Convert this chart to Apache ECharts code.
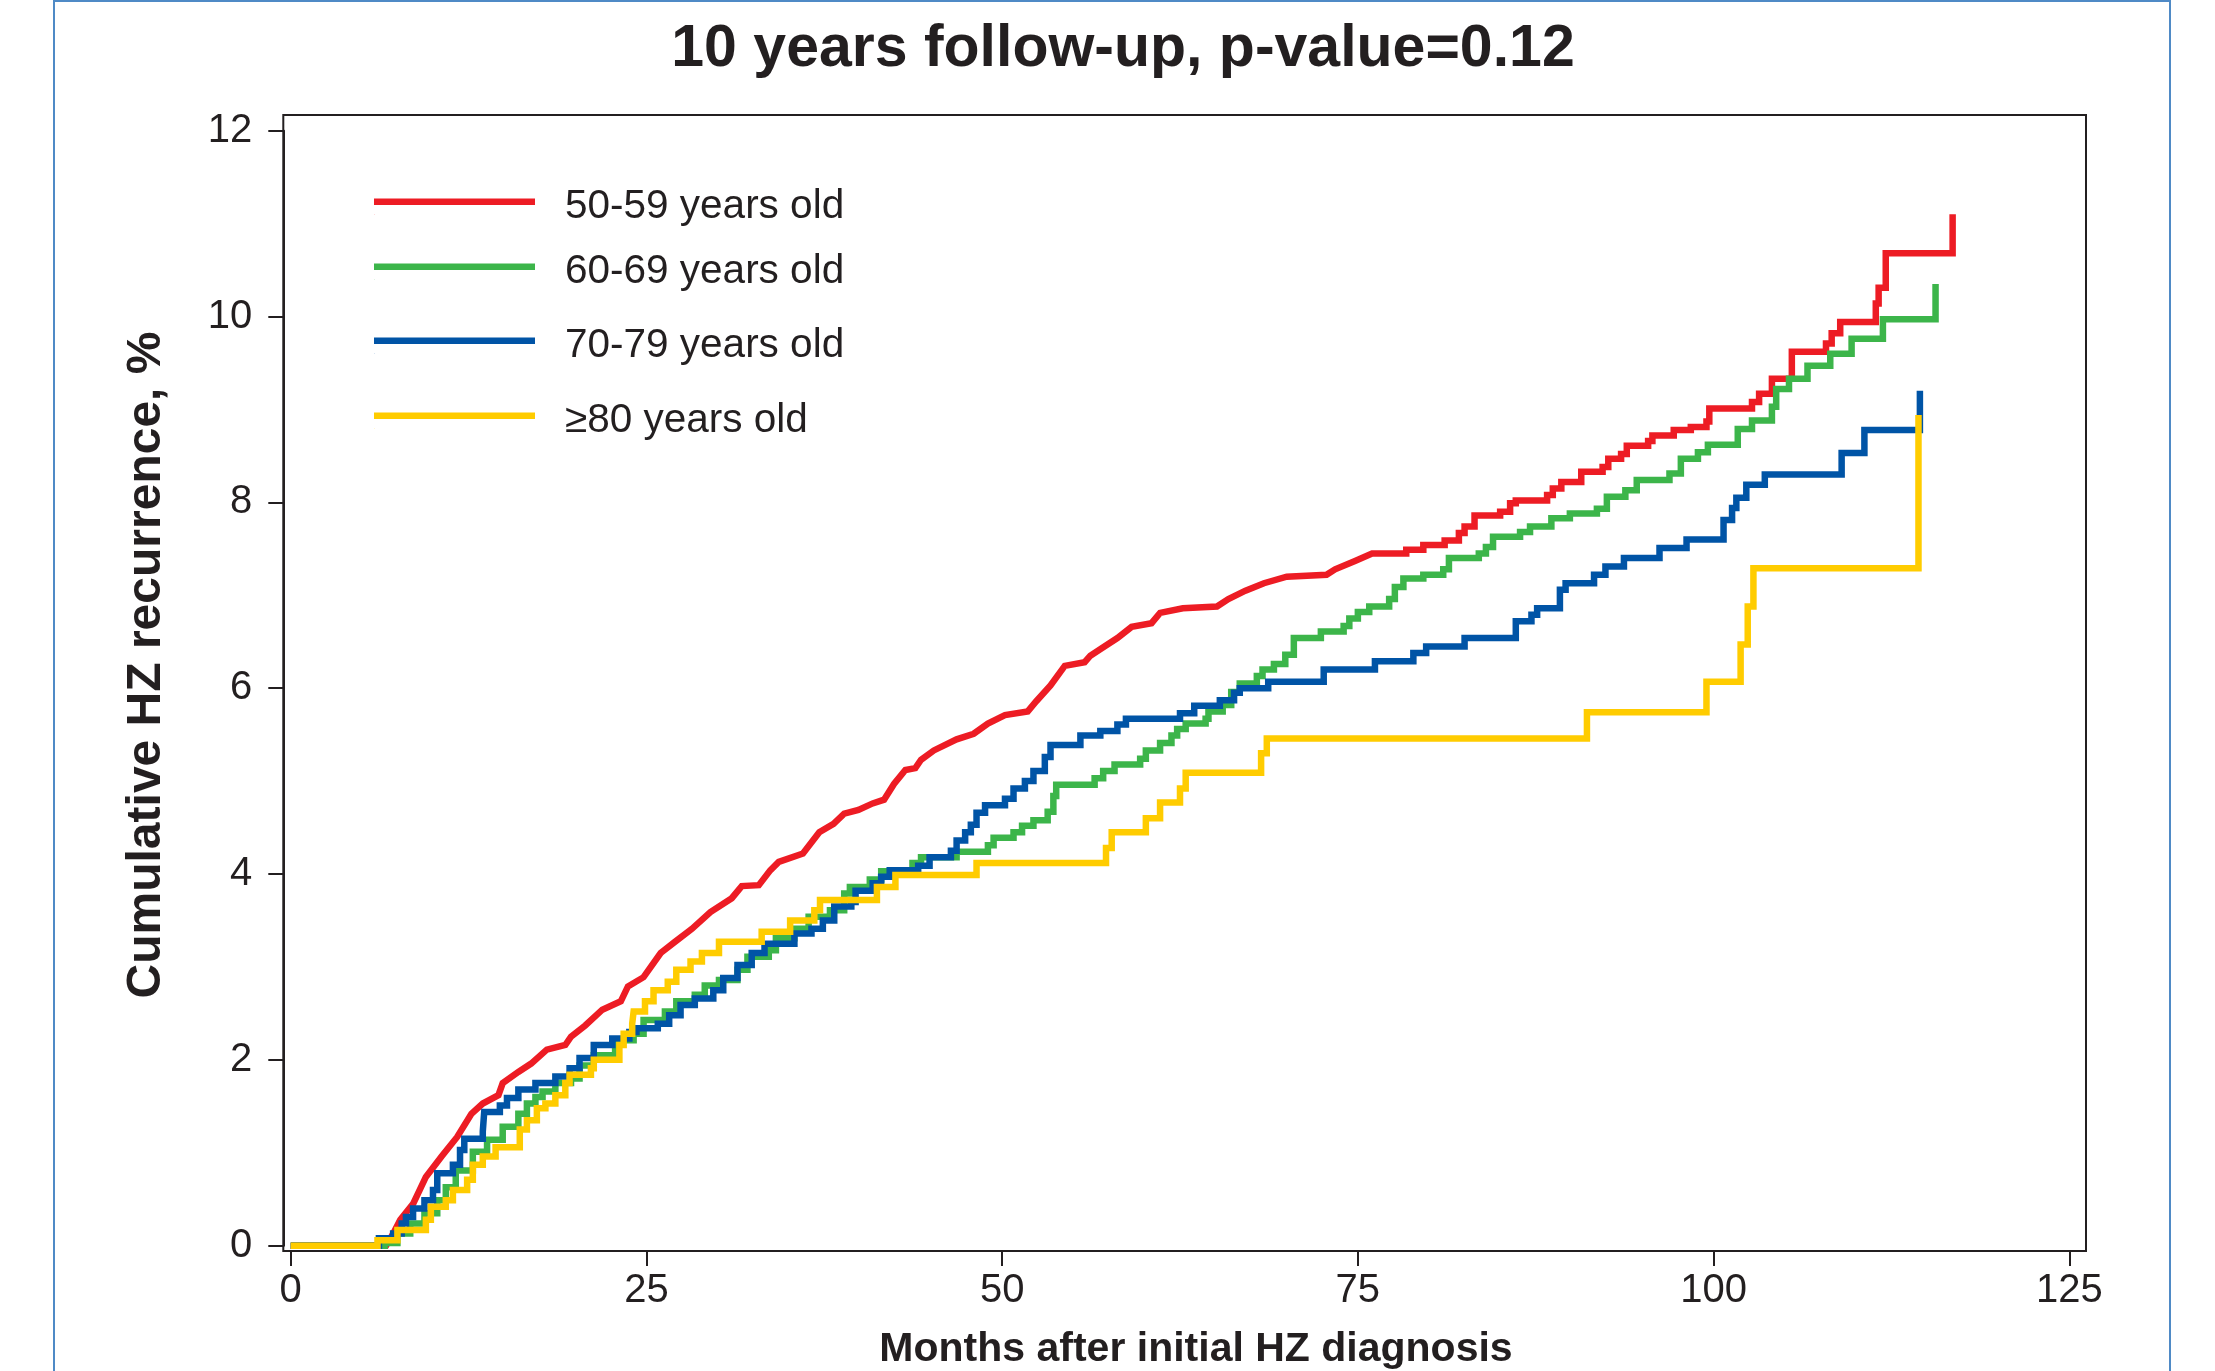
<!DOCTYPE html>
<html><head><meta charset="utf-8">
<script src="https://cdn.jsdelivr.net/npm/echarts@6/dist/echarts.min.js"></script>
<style>html,body{margin:0;padding:0;background:#fff}#c{width:2215px;height:1371px}</style>
</head><body><div id="c"></div>
<script>
// ---------- data ----------
const titleText = '10 years follow-up, p-value=0.12';
const xAxisTitle = 'Months after initial HZ diagnosis';
const yAxisTitle = 'Cumulative HZ recurrence, %';
const seriesNames = ['50-59 years old', '60-69 years old', '70-79 years old', '\u226580 years old'];
const xTicks = [0, 25, 50, 75, 100, 125];
const yTicks = [0, 2, 4, 6, 8, 10, 12];

// 50-59: dense part (many tiny steps, drawn as a polyline) [month, %]
const red50Dense = [
  [0,0],[6.7,0],[7.2,0.13],[7.7,0.28],[8.6,0.45],[9.5,0.74],[10.6,0.96],[11.7,1.17],[12.7,1.42],
  [13.5,1.53],[14.6,1.62],[14.9,1.75],[16.0,1.87],[16.9,1.96],[18.0,2.11],[19.3,2.16],[19.7,2.25],
  [20.7,2.37],[21.9,2.54],[23.2,2.63],[23.7,2.79],[24.8,2.89],[26.0,3.15],[27.0,3.27],[28.2,3.41],
  [29.5,3.59],[31.0,3.74],[31.7,3.87],[32.9,3.88],[33.7,4.04],[34.3,4.13],[36.0,4.22],[37.15,4.45],
  [38.15,4.54],[38.9,4.65],[39.9,4.69],[40.9,4.76],[41.7,4.80],[42.4,4.97],[43.2,5.12],[43.9,5.14],
  [44.3,5.23],[45.2,5.33],[46.8,5.45],[48.0,5.51],[49.0,5.62],[50.2,5.71],[51.8,5.75],[52.4,5.86],
  [53.4,6.03],[54.4,6.24],[55.8,6.28],[56.2,6.35],[57.0,6.43],[58.1,6.54],[59.1,6.66],[60.5,6.70],
  [61.1,6.81],[62.7,6.86],[65.1,6.88],[65.9,6.96],[67.1,7.05],[68.4,7.13],[70.0,7.20],[72.8,7.22],
  [73.4,7.28],[74.8,7.37],[76.0,7.45]
];
// 50-59: later visible steps [month of jump, % after jump]
const red50Steps = [
  [78.4,7.49],[79.6,7.54],[81.1,7.59],[82.1,7.67],[82.5,7.74],[83.2,7.86],[85.0,7.90],[85.7,7.99],
  [86.1,8.02],[88.3,8.08],[88.7,8.15],[89.3,8.22],[90.7,8.33],[92.2,8.38],[92.6,8.47],[93.5,8.52],
  [93.9,8.61],[95.4,8.66],[95.7,8.72],[97.2,8.78],[98.4,8.81],[99.5,8.87],[99.7,9.01],[102.7,9.08],
  [103.2,9.17],[104.1,9.33],[105.5,9.62],[107.9,9.71],[108.3,9.82],[108.9,9.94],[111.4,10.14],
  [111.6,10.31],[112.1,10.68],[116.8,11.1]
];
// 60-69 [month of jump, % after jump]
const green60 = [
  [0,0],[6.6,0.03],[7.5,0.13],[8.4,0.24],[9.4,0.35],[10.3,0.49],[10.9,0.63],[11.6,0.81],[12.8,1.01],
  [13.8,1.14],[14.9,1.28],[16.0,1.42],[16.6,1.53],[17.2,1.60],[17.7,1.66],[18.6,1.75],[19.7,1.80],
  [20.3,1.94],[21.3,2.05],[22.8,2.21],[24.1,2.28],[24.8,2.43],[26.3,2.52],[27.1,2.63],[28.4,2.70],
  [29.1,2.80],[30.1,2.86],[31.4,2.97],[32.1,3.11],[33.6,3.18],[34.1,3.31],[35.4,3.41],[36.4,3.54],
  [37.9,3.61],[38.9,3.79],[39.3,3.86],[40.7,3.94],[41.5,4.03],[43.7,4.12],[44.3,4.18],[46.8,4.24],
  [49.0,4.31],[49.4,4.39],[50.8,4.45],[51.4,4.52],[52.2,4.58],[53.2,4.67],[53.6,4.84],[53.8,4.96],
  [56.5,5.03],[57.1,5.11],[57.9,5.18],[59.7,5.24],[60.1,5.33],[61.1,5.41],[61.9,5.49],[62.3,5.56],
  [62.9,5.62],[64.3,5.67],[64.5,5.75],[65.5,5.82],[66.1,5.96],[66.7,6.05],[67.9,6.13],[68.3,6.20],
  [69.1,6.26],[69.9,6.36],[70.5,6.54],[72.4,6.61],[74.0,6.67],[74.4,6.75],[75.0,6.82],[75.8,6.88],
  [77.2,6.96],[77.6,7.09],[78.2,7.18],[79.6,7.22],[81.0,7.28],[81.4,7.40],[83.5,7.45],[84.0,7.52],
  [84.5,7.63],[86.4,7.68],[87.1,7.74],[88.6,7.83],[89.9,7.88],[91.8,7.93],[92.5,8.06],[93.8,8.13],
  [94.6,8.24],[96.9,8.31],[97.7,8.47],[98.9,8.54],[99.6,8.62],[101.7,8.79],[102.7,8.88],[104.1,9.03],
  [104.4,9.22],[105.3,9.33],[106.6,9.47],[108.2,9.60],[109.7,9.76],[111.9,9.97],[115.6,10.35]
];
// 70-79 [month of jump, % after jump]
const blue70 = [
  [0,0],[6.2,0.08],[7.2,0.13],[7.8,0.24],[8.1,0.31],[8.6,0.40],[9.4,0.49],[10.0,0.60],[10.3,0.78],
  [11.4,0.87],[11.9,1.03],[12.2,1.15],[13.5,1.23],[13.6,1.44],[14.7,1.51],[15.2,1.59],[16.0,1.68],
  [17.2,1.75],[18.6,1.82],[19.6,1.91],[20.3,2.02],[21.3,2.16],[22.6,2.23],[23.8,2.30],[24.3,2.34],
  [25.8,2.39],[26.6,2.48],[27.4,2.59],[28.4,2.66],[29.7,2.75],[30.4,2.88],[31.4,3.02],[32.4,3.15],
  [33.3,3.25],[35.4,3.36],[36.6,3.41],[37.4,3.50],[38.2,3.65],[39.4,3.70],[39.7,3.82],[40.9,3.90],
  [41.5,3.97],[42.1,4.04],[44.1,4.09],[44.9,4.18],[46.4,4.25],[46.8,4.36],[47.4,4.45],[47.8,4.53],
  [48.2,4.66],[48.8,4.74],[50.2,4.81],[50.8,4.92],[51.6,5.00],[52.2,5.11],[53.0,5.26],[53.4,5.39],
  [55.5,5.49],[56.9,5.54],[58.1,5.61],[58.7,5.67],[62.5,5.73],[63.5,5.81],[65.3,5.87],[66.3,5.95],
  [66.7,6.00],[68.7,6.07],[72.6,6.20],[76.2,6.29],[78.9,6.38],[79.8,6.45],[82.5,6.54],[86.1,6.72],
  [87.2,6.79],[87.6,6.86],[89.2,7.06],[89.6,7.13],[91.6,7.22],[92.4,7.31],[93.7,7.40],[96.2,7.51],
  [98.1,7.60],[100.7,7.81],[101.3,7.94],[101.6,8.05],[102.3,8.19],[103.6,8.30],[109.0,8.53],
  [110.6,8.78],[114.5,9.20]
];
// >=80 [month of jump, % after jump]
const yellow80 = [
  [0,0],[6.1,0.06],[7.5,0.17],[9.5,0.28],[9.85,0.42],[10.9,0.49],[11.4,0.60],[12.4,0.71],[12.8,0.87],
  [13.5,0.96],[14.4,1.06],[16.1,1.25],[16.6,1.35],[17.3,1.48],[17.9,1.53],[18.6,1.62],[19.3,1.75],
  [19.6,1.84],[21.1,1.91],[21.3,2.00],[23.1,2.16],[23.4,2.28],[24.0,2.39],[24.1,2.52],[24.9,2.63],
  [25.5,2.75],[26.5,2.84],[27.1,2.97],[28.1,3.06],[28.9,3.15],[30.1,3.27],[33.1,3.38],[35.1,3.50],
  [36.8,3.61],[37.2,3.72],[41.2,3.86],[42.5,3.99],[48.2,4.12],[57.3,4.28],[57.7,4.45],[60.1,4.60],
  [61.1,4.77],[62.5,4.92],[62.9,5.09],[68.2,5.30],[68.6,5.46],[91.1,5.74],[99.5,6.07],[101.9,6.47],
  [102.4,6.88],[102.8,7.29],[114.4,8.94]
];
const seriesColors = ['#ed1c24', '#3cb54a', '#0054a6', '#ffcc00'];

// ---------- build ----------
// red: dense part as polyline, then explicit corners of each visible step
const redData = red50Dense.slice();
red50Steps.forEach(p => {
  const prev = redData[redData.length - 1][1];
  redData.push([p[0], prev]);
  redData.push([p[0], p[1]]);
});

const TXT = '#231f20';
const FONT = '"Liberation Sans", Arial, Helvetica, sans-serif';
const legendY = [201, 266, 340, 415];
const LW = 6.5;
// legend swatch: a bar drawn in the upper part of its box so the label sits a little lower
const legendIcon = 'path://M0,0H161V6.5H0ZM0,16H0.3V16.5H0Z';

function lineSeries(name, data, color, step) {
  return {
    name, type: 'line', data, step, symbol: 'none', showSymbol: false, clip: false,
    lineStyle: { color, width: LW, cap: 'butt', join: 'miter' },
    itemStyle: { color }, emphasis: { disabled: true }
  };
}

const chart = echarts.init(document.getElementById('c'), null, { renderer: 'canvas' });
chart.setOption({
  animation: false,
  backgroundColor: '#ffffff',
  textStyle: { fontFamily: FONT },
  title: {
    text: titleText, left: 1118, top: 45, textAlign: 'center', textVerticalAlign: 'middle',
    textStyle: { fontSize: 59, fontWeight: 'bold', color: TXT, fontFamily: FONT }
  },
  grid: { left: 290.7, right: 145.7, top: 130.7, bottom: 125.3, containLabel: false },
  xAxis: {
    type: 'value', min: xTicks[0], max: xTicks[xTicks.length - 1], interval: 25, offset: 5.3,
    splitLine: { show: false },
    axisLine: { show: true, onZero: false, lineStyle: { color: TXT, width: 2 } },
    axisTick: { show: true, length: 15, lineStyle: { color: TXT, width: 2 } },
    axisLabel: { fontSize: 40, color: TXT, margin: 20, fontFamily: FONT }
  },
  yAxis: {
    type: 'value', min: yTicks[0], max: yTicks[yTicks.length - 1], interval: 2, offset: 7.4,
    splitLine: { show: false },
    axisLine: { show: true, onZero: false, lineStyle: { color: TXT, width: 2 } },
    axisTick: { show: true, length: 15, lineStyle: { color: TXT, width: 2 } },
    axisLabel: { fontSize: 40, color: TXT, margin: 31, fontFamily: FONT }
  },
  legend: seriesNames.map((n, i) => ({
    data: [{ name: n, icon: legendIcon, itemStyle: { color: seriesColors[i] } }],
    left: 374, top: legendY[i] - 14.75, orient: 'vertical', selectedMode: false,
    itemWidth: 161, itemHeight: 16.5, padding: 0,
    textStyle: { fontSize: 40.5, color: TXT, fontFamily: FONT, padding: [0, 0, 0, 25], lineHeight: 40 }
  })),
  series: [
    lineSeries(seriesNames[0], redData, seriesColors[0], false),
    lineSeries(seriesNames[1], green60, seriesColors[1], 'end'),
    lineSeries(seriesNames[2], blue70, seriesColors[2], 'end'),
    lineSeries(seriesNames[3], yellow80, seriesColors[3], 'end')
  ],
  graphic: [
    { type: 'rect', silent: true, z: -1,
      shape: { x: 54, y: 1, width: 2116, height: 1420 },
      style: { fill: 'none', stroke: '#4f8ac6', lineWidth: 2 } },
    { type: 'rect', silent: true, z: 0,
      shape: { x: 283.3, y: 115, width: 1802.7, height: 1136 },
      style: { fill: 'none', stroke: TXT, lineWidth: 2 } },
    { type: 'text', silent: true, x: 147, y: 665, rotation: Math.PI / 2,
      style: { text: yAxisTitle, fontSize: 48, fontWeight: 'bold', fill: TXT, fontFamily: FONT,
        textAlign: 'center', textVerticalAlign: 'middle' } },
    { type: 'text', silent: true, x: 1196, y: 1350,
      style: { text: xAxisTitle, fontSize: 41, fontWeight: 'bold', fill: TXT, fontFamily: FONT,
        textAlign: 'center', textVerticalAlign: 'middle' } }
  ]
});
</script></body></html>
